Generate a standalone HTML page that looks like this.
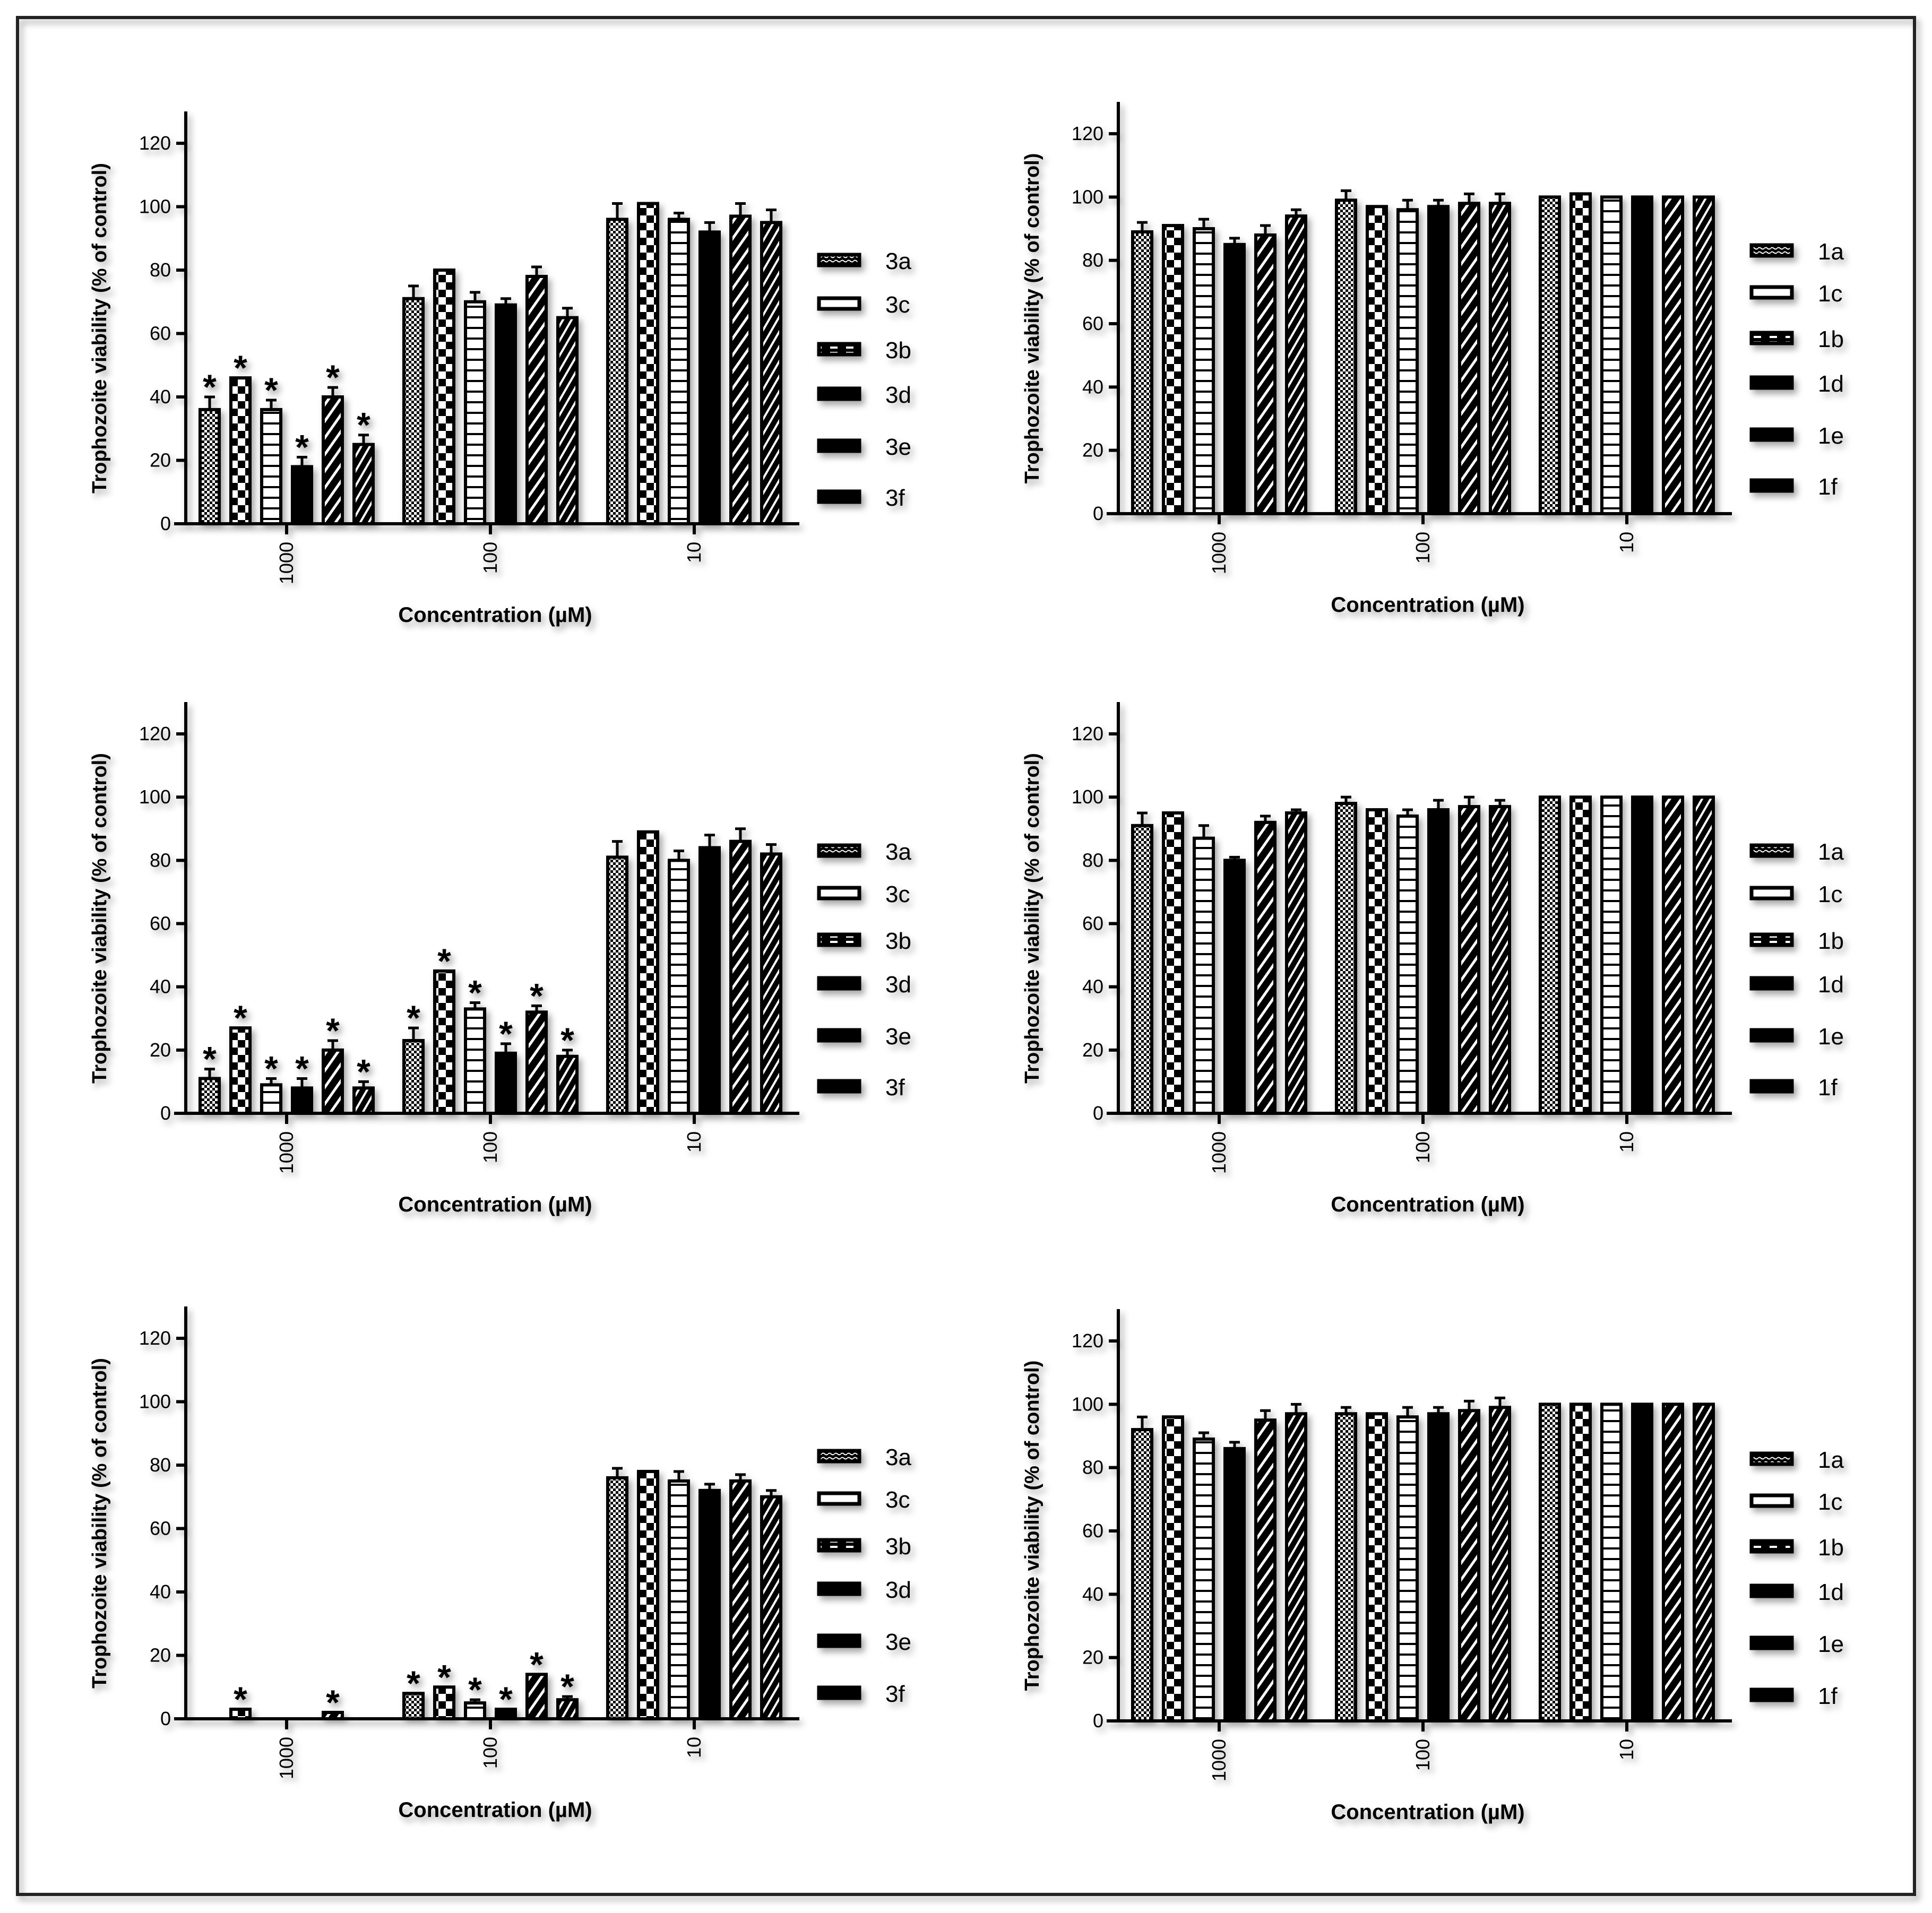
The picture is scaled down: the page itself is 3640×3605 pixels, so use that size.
<!DOCTYPE html>
<html><head><meta charset="utf-8"><style>
html,body{margin:0;padding:0;background:#fff;}
svg{display:block;}
text{font-family:"Liberation Sans",sans-serif;}
</style></head><body>
<svg id="fig" width="3640" height="3605" viewBox="0 0 3640 3605" xmlns="http://www.w3.org/2000/svg">
<defs>
<filter id="sh" x="-20%" y="-20%" width="140%" height="140%"><feDropShadow dx="6" dy="8" stdDeviation="6" flood-color="#000" flood-opacity="0.35"/></filter>
<pattern id="p0" width="10" height="10" patternUnits="userSpaceOnUse"><rect width="10" height="10" fill="#fff"/><rect width="5" height="5" fill="#000"/><rect x="5" y="5" width="5" height="5" fill="#000"/></pattern>
<pattern id="p1" width="28" height="28" patternUnits="userSpaceOnUse"><rect width="28" height="28" fill="#fff"/><rect width="14" height="14" fill="#000"/><rect x="14" y="14" width="14" height="14" fill="#000"/></pattern>
<pattern id="p2" width="20" height="20" patternUnits="userSpaceOnUse"><rect width="20" height="20" fill="#fff"/><rect y="16" width="20" height="4" fill="#000"/></pattern>
<pattern id="p3" width="10" height="10" patternUnits="userSpaceOnUse"><rect width="10" height="10" fill="#000"/></pattern>
<pattern id="p4" width="18" height="18" patternUnits="userSpaceOnUse" patternTransform="rotate(35)"><rect width="18" height="18" fill="#000"/><rect width="5" height="18" fill="#fff"/></pattern>
<pattern id="p5" width="14" height="14" patternUnits="userSpaceOnUse" patternTransform="rotate(30)"><rect width="14" height="14" fill="#000"/><rect width="4" height="14" fill="#fff"/></pattern>
<pattern id="l0" width="12" height="8" patternUnits="userSpaceOnUse"><rect width="12" height="8" fill="#000"/><path d="M0 4 Q3 1 6 4 T12 4" stroke="#fff" stroke-width="2" fill="none"/></pattern>
<pattern id="l2" width="30" height="10" patternUnits="userSpaceOnUse"><rect width="30" height="10" fill="#000"/><rect x="4" y="3" width="14" height="4" fill="#fff"/></pattern>
</defs>
<rect x="33" y="33" width="3574" height="3537" fill="none" stroke="#222" stroke-width="6" filter="url(#sh)"/>
</svg>
<script>
const categories = ["1000","100","10"];
const seriesA = ["3a","3b","3c","3d","3e","3f"];
const seriesB = ["1a","1b","1c","1d","1e","1f"];
const legendA = ["3a","3c","3b","3d","3e","3f"];
const legendB = ["1a","1c","1b","1d","1e","1f"];
const yTicks = [0,20,40,60,80,100,120];
const v1 = [[36,46,36,18,40,25],[71,80,70,69,78,65],[96,101,96,92,97,95]];
const e1 = [[4,0,3,3,3,3],[4,0,3,2,3,3],[5,0,2,3,4,4]];
const s1 = [[1,1,1,1,1,1],[0,0,0,0,0,0],[0,0,0,0,0,0]];
const v2 = [[89,91,90,85,88,94],[99,97,96,97,98,98],[100,101,100,100,100,100]];
const e2 = [[3,0,3,2,3,2],[3,0,3,2,3,3],[0,0,0,0,0,0]];
const v3 = [[11,27,9,8,20,8],[23,45,33,19,32,18],[81,89,80,84,86,82]];
const e3 = [[3,0,2,3,3,2],[4,0,2,3,2,2],[5,0,3,4,4,3]];
const s3 = [[1,1,1,1,1,1],[1,1,1,1,1,1],[0,0,0,0,0,0]];
const v4 = [[91,95,87,80,92,95],[98,96,94,96,97,97],[100,100,100,100,100,100]];
const e4 = [[4,0,4,1,2,1],[2,0,2,3,3,2],[0,0,0,0,0,0]];
const v5 = [[0,3,0,0,2,0],[8,10,5,3,14,6],[76,78,75,72,75,70]];
const e5 = [[0,0,0,0,0,0],[0,0,1,0,0,1],[3,0,3,2,2,2]];
const s5 = [[0,1,0,0,1,0],[1,1,1,1,1,1],[0,0,0,0,0,0]];
const v6 = [[92,96,89,86,95,97],[97,97,96,97,98,99],[100,100,100,100,100,100]];
const e6 = [[4,0,2,2,3,3],[2,0,3,2,3,3],[0,0,0,0,0,0]];

const panels = [
 {ax:350,y0:987,y120:270,vals:v1,errs:e1,stars:s1,series:seriesA,leg:legendA,lx:1540,ly:[492,574,660,744,842,938]},
 {ax:2107,y0:968,y120:252,vals:v2,errs:e2,stars:null,series:seriesB,leg:legendB,lx:3297,ly:[474,553,639,723,821,917]},
 {ax:350,y0:2098,y120:1383,vals:v3,errs:e3,stars:s3,series:seriesA,leg:legendA,lx:1540,ly:[1605,1685,1773,1855,1953,2049]},
 {ax:2107,y0:2098,y120:1383,vals:v4,errs:e4,stars:null,series:seriesB,leg:legendB,lx:3297,ly:[1605,1685,1773,1855,1953,2049]},
 {ax:350,y0:3239,y120:2522,vals:v5,errs:e5,stars:s5,series:seriesA,leg:legendA,lx:1540,ly:[2746,2826,2914,2996,3094,3192]},
 {ax:2107,y0:3243,y120:2527,vals:v6,errs:e6,stars:null,series:seriesB,leg:legendB,lx:3297,ly:[2751,2830,2916,3000,3098,3196]}
];
const NS="http://www.w3.org/2000/svg";
const svg=document.getElementById('fig');
function mk(tag,attrs,parent){const e=document.createElementNS(NS,tag);for(const k in attrs)e.setAttribute(k,attrs[k]);(parent||svg).appendChild(e);return e;}
const patFor={"a":"p0","b":"p1","c":"p2","d":"p3","e":"p4","f":"p5"};
const legPat={"a":"url(#l0)","b":"url(#l2)","c":"#fff","d":"#000","e":"#000","f":"#000"};

panels.forEach((P,pi)=>{
 const g=mk('g',{filter:'url(#sh)'});
 
 
 const ys=v=>P.y0-(v/120)*(P.y0-P.y120);
 const gx=k=>P.ax+190+k*384;
 const bx=(k,i)=>gx(k)+(i-2.5)*58;
 const ya=mk('line',{x1:P.ax,y1:P.y120-60,x2:P.ax,y2:P.y0+3,stroke:'#000','stroke-width':6},g);
 
 
 yTicks.forEach(t=>{
  mk('line',{x1:P.ax-18,y1:ys(t),x2:P.ax,y2:ys(t),stroke:'#000','stroke-width':6},g);
  const tl=mk('text',{x:P.ax-28,y:ys(t)+12,'text-anchor':'end','font-size':36},g);
  tl.textContent=t;
  
  
 });
 const xa=mk('line',{x1:P.ax-22,y1:P.y0,x2:P.ax+1156,y2:P.y0,stroke:'#000','stroke-width':6},g);
 
 
 categories.forEach((c,k)=>{
  mk('line',{x1:gx(k),y1:P.y0,x2:gx(k),y2:P.y0+20,stroke:'#000','stroke-width':6},g);
  const tl=mk('text',{x:0,y:0,'text-anchor':'end','font-size':36,transform:`translate(${gx(k)+12},${P.y0+34}) rotate(-90)`},g);
  tl.textContent=c;
  
  
  P.vals[k].forEach((v,i)=>{
   const x=bx(k,i), y=ys(v), ev=P.errs[k][i];
   if(ev>0){
    mk('line',{x1:x,y1:y,x2:x,y2:ys(v+ev),stroke:'#000','stroke-width':5},g);
    mk('line',{x1:x-10,y1:ys(v+ev),x2:x+10,y2:ys(v+ev),stroke:'#000','stroke-width':5},g);
   }
   if(v>0){
    const r=mk('rect',{x:x-18,y:y,width:36,height:P.y0-y,fill:'url(#'+patFor[P.series[i].slice(-1)]+')',stroke:'#000','stroke-width':6},g);
    
    
   }
   if(P.stars&&P.stars[k][i]){
    const st=mk('text',{x:x,y:ys(v+ev)+4,'text-anchor':'middle','font-size':66,'font-weight':'bold'},g);
    st.textContent='*';
    
    
   }
  });
 });
 const yt=mk('text',{x:0,y:0,'text-anchor':'middle','font-size':38,'font-weight':'bold',transform:`translate(${P.ax-150},${(P.y0+P.y120)/2-10}) rotate(-90)`},g);
 yt.textContent='Trophozoite viability (% of control)';
 
 
 const xt=mk('text',{x:P.ax+583,y:P.y0+185,'text-anchor':'middle','font-size':40,'font-weight':'bold'},g);
 xt.textContent='Concentration (\u00b5M)';
 
 
 P.leg.forEach((n,j)=>{
  const le=mk('g',{},g);
  
  
  mk('rect',{x:P.lx+3,y:P.ly[j]-12,width:76,height:20,fill:legPat[n.slice(-1)],stroke:'#000','stroke-width':7},le);
  const lt=mk('text',{x:P.lx+128,y:P.ly[j]+15,'font-size':44},le);
  lt.textContent=n;
 });
});
</script>
</body></html>
